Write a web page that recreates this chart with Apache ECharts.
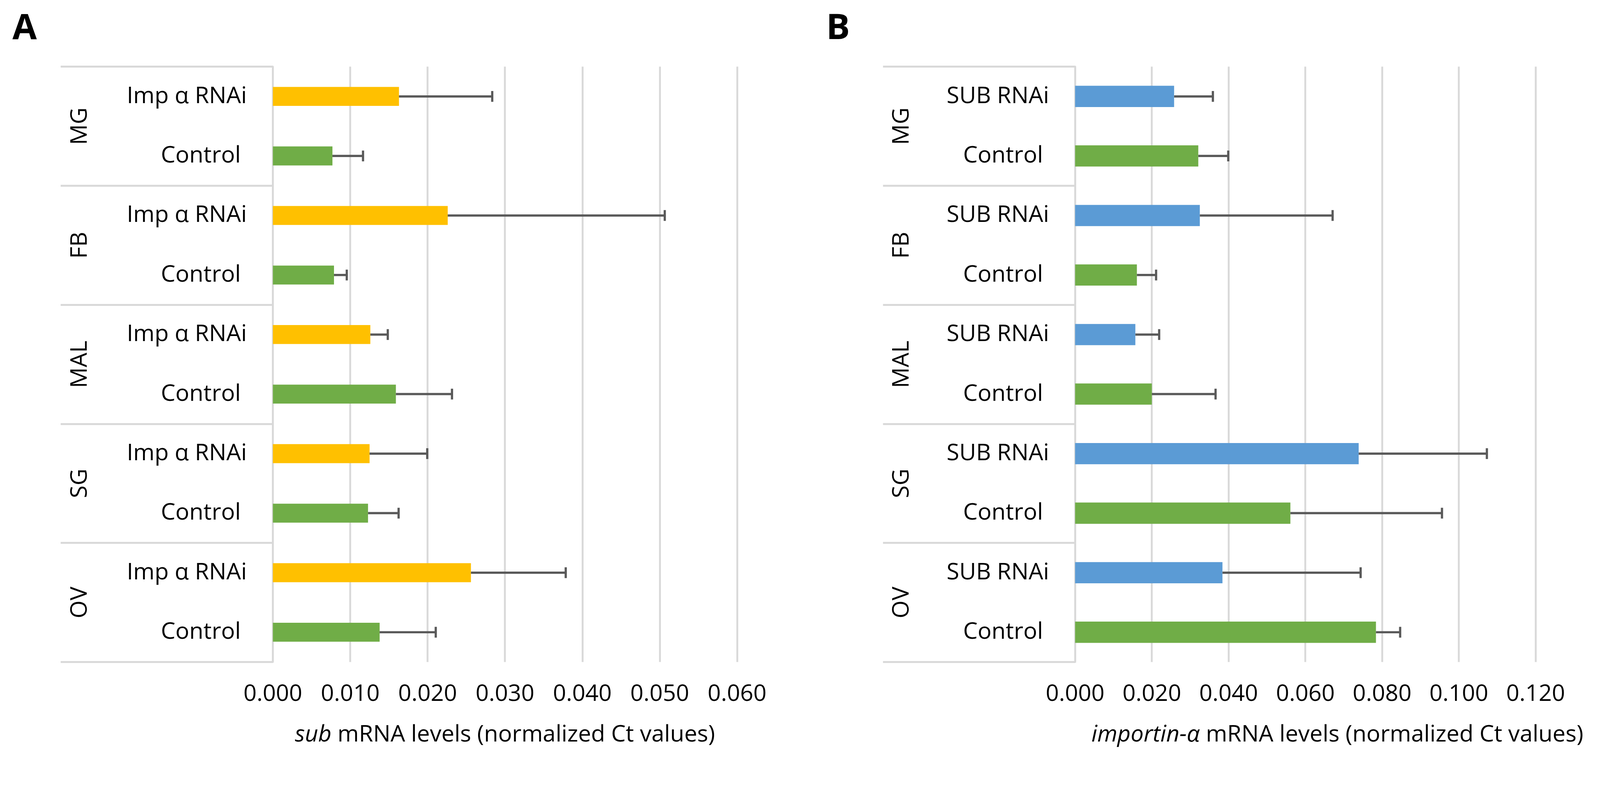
<!DOCTYPE html>
<html>
<head>
<meta charset="utf-8">
<script src="https://cdn.jsdelivr.net/npm/echarts@6/dist/echarts.min.js"></script>
<style>
html,body{margin:0;padding:0;background:#fff;overflow:hidden;}
#chart{width:100vw;height:100vh;}
</style>
</head>
<body>
<div id="chart"></div>
<script>
// ---- data ----
var groups = ['MG', 'FB', 'MAL', 'SG', 'OV'];
var conditionsA = ['Imp α RNAi', 'Control'];
var conditionsB = ['SUB RNAi', 'Control'];
// order: MG treat, MG control, FB treat, FB control, MAL ..., SG ..., OV ...
var valuesA = [0.0163, 0.0077, 0.0226, 0.0079, 0.0126, 0.0159, 0.0125, 0.0123, 0.0256, 0.0138];
var errorsA = [0.0121, 0.0040, 0.0281, 0.0017, 0.0023, 0.0073, 0.0075, 0.0040, 0.0123, 0.0073];
var valuesB = [0.0258, 0.0321, 0.0325, 0.0161, 0.0157, 0.0200, 0.0739, 0.0561, 0.0384, 0.0784];
var errorsB = [0.0102, 0.0079, 0.0347, 0.0051, 0.0063, 0.0167, 0.0335, 0.0396, 0.0361, 0.0064];
var ticksA = [0, 0.01, 0.02, 0.03, 0.04, 0.05, 0.06];
var ticksB = [0, 0.02, 0.04, 0.06, 0.08, 0.10, 0.12];
var axisTitleA = '{i|sub} mRNA levels (normalized Ct values)';
var axisTitleB = '{i|importin-α} mRNA levels (normalized Ct values)';

var el = document.getElementById('chart');
var W = el.clientWidth || window.innerWidth, H = el.clientHeight || window.innerHeight;
var S = Math.min(W / 4298, H / 2040);
function p(v) { return v * S; }

var FONT = 'Open Sans';
var FS = p(62);
var GRID_C = '#d9d9d9';
var colTreatA = '#FFC000', colTreatB = '#5B9BD5', colCtrl = '#70AD47';

function buildCats(conds) {
  var out = [];
  groups.forEach(function (g) { conds.forEach(function (c) { out.push(g + '|' + c); }); });
  return out;
}
var catsA = buildCats(conditionsA);
var catsB = buildCats(conditionsB);

function catLabel(v) {
  var c = v.split('|')[1];
  return c === 'Control' ? c + ' ' : c;
}

function barData(vals, treatColor) {
  return vals.map(function (v, i) {
    return { value: v, itemStyle: { color: i % 2 === 0 ? treatColor : colCtrl } };
  });
}
function errData(vals, errs) {
  return vals.map(function (v, i) { return [i, v, v + errs[i]]; });
}
function renderErr(params, api) {
  var idx = api.value(0);
  var s = api.coord([api.value(1), idx]);
  var e = api.coord([api.value(2), idx]);
  var h = p(29);
  var st = { stroke: '#595959', lineWidth: p(6) };
  return {
    type: 'group',
    children: [
      { type: 'line', shape: { x1: s[0], y1: s[1], x2: e[0], y2: e[1] }, style: st },
      { type: 'line', shape: { x1: e[0] - p(1), y1: e[1] - h / 2, x2: e[0] - p(1), y2: e[1] + h / 2 }, style: st }
    ]
  };
}

function xAxisDef(gridIndex, ticks, title, padLeft) {
  var step = ticks[1] - ticks[0];
  return {
    gridIndex: gridIndex, type: 'value',
    min: ticks[0], max: ticks[ticks.length - 1], interval: step,
    axisLine: { show: false }, axisTick: { show: false },
    splitLine: { show: true, lineStyle: { color: GRID_C, width: p(5) } },
    axisLabel: {
      margin: p(56), fontFamily: FONT, fontSize: FS, color: '#000',
      formatter: function (v) { return v.toFixed(3); }
    },
    name: title, nameLocation: 'middle', nameGap: p(165),
    nameTextStyle: {
      fontFamily: FONT, fontSize: FS, color: '#000', padding: [0, 0, 0, p(padLeft)],
      rich: { i: { fontFamily: FONT, fontSize: FS, color: '#000', fontStyle: 'italic' } }
    }
  };
}
function yCatAxis(gridIndex, cats) {
  return {
    gridIndex: gridIndex, type: 'category', data: cats, inverse: true,
    axisLine: { show: true, lineStyle: { color: GRID_C, width: p(5) } },
    axisTick: { show: false },
    axisLabel: { margin: p(70), fontFamily: FONT, fontSize: FS, color: '#000', formatter: catLabel, interval: 0 }
  };
}
function yGroupAxis(gridIndex, tickLen, labelDist) {
  return {
    gridIndex: gridIndex, type: 'category', data: groups, inverse: true, position: 'left',
    axisLine: { show: false },
    axisTick: { show: true, length: p(tickLen), interval: 0, lineStyle: { color: GRID_C, width: p(5) } },
    axisLabel: {
      interval: 0, rotate: 90, margin: p(labelDist), align: 'center', verticalAlign: 'middle',
      fontFamily: FONT, fontSize: FS, color: '#000'
    }
  };
}

var chart = echarts.init(el, null, { renderer: 'canvas' });
chart.setOption({
  backgroundColor: '#fff',
  animation: false,
  title: [
    { text: 'A', left: p(28), top: p(25), textStyle: { fontFamily: FONT, fontWeight: 'bold', fontSize: p(95), color: '#000' } },
    { text: 'B', left: p(2214), top: p(25), textStyle: { fontFamily: FONT, fontWeight: 'bold', fontSize: p(95), color: '#000' } }
  ],
  grid: [
    { left: p(733), top: p(179), width: p(1247), height: p(1599) },
    { left: p(2888), top: p(179), width: p(1237), height: p(1599) }
  ],
  xAxis: [xAxisDef(0, ticksA, axisTitleA, 0), xAxisDef(1, ticksB, axisTitleB, 172)],
  yAxis: [yCatAxis(0, catsA), yGroupAxis(0, 570, 518), yCatAxis(1, catsB), yGroupAxis(1, 516, 465)],
  series: [
    { type: 'bar', xAxisIndex: 0, yAxisIndex: 0, barWidth: p(51), data: barData(valuesA, colTreatA) },
    { type: 'custom', xAxisIndex: 0, yAxisIndex: 0, renderItem: renderErr, encode: { x: [1, 2], y: 0 }, data: errData(valuesA, errorsA), z: 5 },
    { type: 'bar', xAxisIndex: 1, yAxisIndex: 2, barWidth: p(57), data: barData(valuesB, colTreatB) },
    { type: 'custom', xAxisIndex: 1, yAxisIndex: 2, renderItem: renderErr, encode: { x: [1, 2], y: 0 }, data: errData(valuesB, errorsB), z: 5 }
  ]
});
</script>
</body>
</html>
